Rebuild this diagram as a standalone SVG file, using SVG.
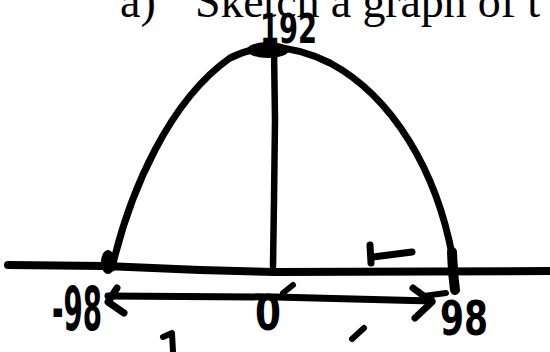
<svg xmlns="http://www.w3.org/2000/svg" width="550" height="352" viewBox="0 0 550 352">
<style>
.ink{fill:none;stroke:#000;stroke-linecap:round;stroke-linejoin:round}
.hand{font-family:"DejaVu Sans Condensed","DejaVu Sans",sans-serif;font-weight:bold;fill:#000}
.title{font-family:"Liberation Serif","Times New Roman",serif;font-size:46px;fill:#000}
</style>
<rect width="550" height="352" fill="#fff"/>
<g id="title">
<text class="title" x="120" y="17">a)</text>
<text class="title" x="195" y="17" textLength="345" lengthAdjust="spacing">Sketch a graph of t</text>
</g>
<g id="axes">
<path class="ink" stroke-width="8" d="M8,265 L105,266 L200,270 L275,272 L550,271"/>
<path class="ink" stroke-width="6.5" d="M274,50 L275,120 L274,200 L273,266"/>
</g>
<g id="parabola">
<path class="ink" stroke-width="7" d="M112,268 C130,190 170,100 230,58 Q250,48 270,47 Q300,48 330,63 C390,95 440,170 455,272"/>
<ellipse cx="268" cy="50" rx="21" ry="8" fill="#000"/>
<ellipse cx="108" cy="262" rx="7" ry="12" fill="#000"/>
<path class="ink" stroke-width="10" d="M452,252 L453,272 L455,290"/>
</g>
<g id="arrow">
<path class="ink" stroke-width="7" d="M108,296 L275,297 L432,301"/>
<path class="ink" stroke-width="7" d="M124,313 L108,302 L117,288"/>
<path class="ink" stroke-width="7" d="M413,288 L432,302 L415,318"/>
<path class="ink" stroke-width="6" d="M424,296 L446,293"/>
</g>
<g id="marks">
<path class="ink" stroke-width="7" d="M370,245 L371,263 M373,257 L412,252"/>
<path class="ink" stroke-width="6" d="M283,293 L293,285"/>
<path class="ink" stroke-width="6" d="M163,337 L172,333 L173,352"/>
<path class="ink" stroke-width="6" d="M364,328 L352,339"/>
</g>
<g id="labels">
<text class="hand" x="260" y="43" font-size="40" textLength="57" lengthAdjust="spacingAndGlyphs">192</text>
<text class="hand" x="52" y="330" font-size="60" textLength="50" lengthAdjust="spacingAndGlyphs">-98</text>
<text class="hand" x="255" y="330" font-size="50" textLength="26" lengthAdjust="spacingAndGlyphs">0</text>
<text class="hand" x="440" y="335" font-size="48" textLength="48" lengthAdjust="spacingAndGlyphs">98</text>
</g>
</svg>
